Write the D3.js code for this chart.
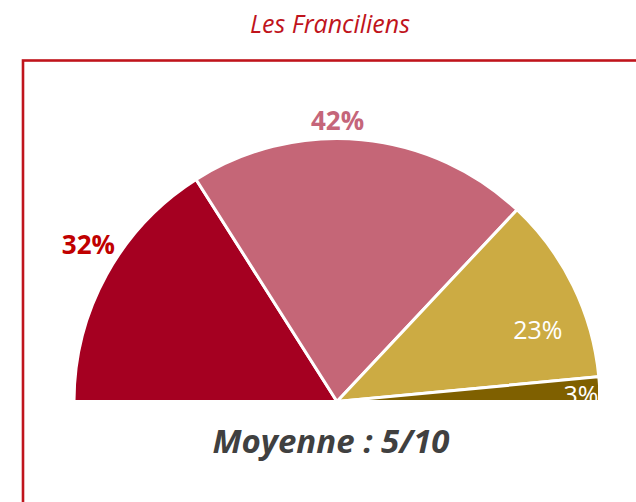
<!DOCTYPE html>
<html lang="fr">
<head>
<meta charset="utf-8">
<title>Les Franciliens</title>
<script src="https://cdn.jsdelivr.net/npm/d3@7"></script>
<style>
  body { margin: 0; background: #fff; }
  svg { display: block; }
</style>
</head>
<body>
<script>
// values
var categories = ["A", "B", "C", "D"];
var shares = [32, 42, 23, 3];
var shareLabels = ["32%", "42%", "23%", "3%"];
var sliceColors = ["#a50021", "#c56677", "#ccab43", "#7f6000"];
var title = "Les Franciliens";
var average = "Moyenne : 5/10";

var width = 636, height = 502;
var cx = 337, cy = 401.5, radius = 263;

var svg = d3.select("body").append("svg")
    .attr("width", width)
    .attr("height", height);

svg.append("text")
    .attr("x", 330)
    .attr("y", 33)
    .attr("text-anchor", "middle")
    .attr("font-family", "Open Sans")
    .attr("font-style", "italic")
    .attr("font-size", 25)
    .attr("fill", "#c0141c")
    .text(title);

// frame, runs off the right and bottom edges
svg.append("rect")
    .attr("x", 23)
    .attr("y", 60.5)
    .attr("width", 700)
    .attr("height", 600)
    .attr("fill", "none")
    .attr("stroke", "#c0141c")
    .attr("stroke-width", 2.6);

svg.append("clipPath").attr("id", "half")
    .append("rect")
    .attr("x", 0).attr("y", 0)
    .attr("width", 598).attr("height", 401);

var pie = d3.pie()
    .sort(null)
    .startAngle(-Math.PI / 2)
    .endAngle(Math.PI / 2)
    .value(function (d) { return d; });

var arcs = pie(shares);
var arc = d3.arc().innerRadius(0).outerRadius(radius);

var g = svg.append("g").attr("clip-path", "url(#half)")
    .append("g")
    .attr("transform", "translate(" + cx + "," + cy + ")");

g.selectAll("path")
    .data(arcs)
    .enter()
    .append("path")
    .attr("d", arc)
    .attr("fill", function (d, i) { return sliceColors[i]; })
    .attr("stroke", "#fff")
    .attr("stroke-width", 3)
    .attr("stroke-linejoin", "round");

// label placement: radius and position along the slice (0..1)
var labelStyle = [
    { r: 294, t: 0.56, fill: "#c00000", weight: "bold", size: 26 },
    { r: 281, t: 0.43, fill: "#c5667a", weight: "bold", size: 26 },
    { r: 213, t: 0.66, fill: "#ffffff", weight: "normal", size: 25 },
    { r: 244, t: 0.70, fill: "#ffffff", weight: "normal", size: 25 }
];

function labelPos(d, i) {
    var s = labelStyle[i];
    var a = d.startAngle + (d.endAngle - d.startAngle) * s.t;
    return [s.r * Math.sin(a), -s.r * Math.cos(a)];
}

g.selectAll("text")
    .data(arcs)
    .enter()
    .append("text")
    .attr("x", function (d, i) { return labelPos(d, i)[0]; })
    .attr("y", function (d, i) { return labelPos(d, i)[1]; })
    .attr("dy", "0.36em")
    .attr("text-anchor", "middle")
    .attr("font-family", "Open Sans")
    .attr("font-weight", function (d, i) { return labelStyle[i].weight; })
    .attr("font-size", function (d, i) { return labelStyle[i].size; })
    .attr("fill", function (d, i) { return labelStyle[i].fill; })
    .text(function (d, i) { return shareLabels[i]; });

svg.append("text")
    .attr("x", 331)
    .attr("y", 453)
    .attr("text-anchor", "middle")
    .attr("font-family", "Open Sans")
    .attr("font-weight", "bold")
    .attr("font-style", "italic")
    .attr("font-size", 33)
    .attr("fill", "#404040")
    .text(average);
</script>
</body>
</html>
